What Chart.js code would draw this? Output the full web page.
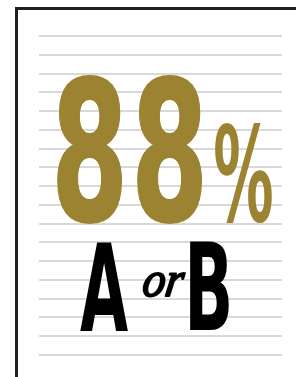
<!DOCTYPE html>
<html>
<head>
<meta charset="utf-8">
<script src="https://cdn.jsdelivr.net/npm/chart.js@4"></script>
<style>
  html, body { margin: 0; padding: 0; background: #fff; }
  body { width: 296px; height: 377px; overflow: hidden; position: relative; }
  #frame { position: absolute; left: 15px; top: 7px; width: 400px; height: 500px; border: 3px solid #231f20; box-sizing: border-box; }
  #c { position: absolute; left: 0; top: 0; }
</style>
</head>
<body>
<div id="frame"></div>
<canvas id="c" width="296" height="377"></canvas>
<script>
// ---- data ----
const rowTicks = [0, 1, 2, 3, 4, 5, 6, 7, 8, 9, 10, 11, 12, 13, 14, 15, 16, 17];
const shareValues = [88];
const shareUnit = '%';
const choices = ['A', 'B'];
const joiner = 'or';

// ---- drawing helper: fit a string into a box ----
function fitText(ctx, text, font, box, color, grow, skew) {
  ctx.save();
  ctx.font = font;
  const m = ctx.measureText(text);
  const g = grow || 0;
  const bw = m.actualBoundingBoxLeft + m.actualBoundingBoxRight + g;
  const bh = m.actualBoundingBoxAscent + m.actualBoundingBoxDescent + g;
  const sx = box.w / bw, sy = box.h / bh;
  ctx.translate(box.x + (m.actualBoundingBoxLeft + g / 2) * sx, box.y + (m.actualBoundingBoxAscent + g / 2) * sy);
  if (skew) ctx.transform(1, 0, -skew, 1, 0, 0);
  ctx.scale(sx, sy);
  ctx.fillStyle = color;
  ctx.fillText(text, 0, 0);
  if (g > 0) {
    ctx.strokeStyle = color;
    ctx.lineWidth = g;
    ctx.lineJoin = 'round';
    ctx.strokeText(text, 0, 0);
  }
  ctx.restore();
}

const posterText = {
  id: 'posterText',
  afterDraw(chart) {
    const ctx = chart.ctx;
    const gold = '#9b8332';
    const digits = String(shareValues[0]).split('');
    digits.forEach((d, i) => {
      fitText(ctx, d, 'bold 200px "DejaVu Sans"', { x: 57 + i * 80, y: 75, w: 65, h: 149 }, gold, 2);
    });
    fitText(ctx, shareUnit, 'bold 200px "DejaVu Sans Condensed"', { x: 215, y: 123, w: 57, h: 100 }, gold, 0);
    fitText(ctx, choices[0], 'bold 200px "DejaVu Sans Condensed"', { x: 80, y: 243, w: 48, h: 88 }, '#000', 0);
    fitText(ctx, joiner, 'italic 100px "Liberation Serif"', { x: 141, y: 271, w: 42, h: 26 }, '#000', 4, 0.15);
    fitText(ctx, choices[1], 'bold 200px "DejaVu Sans Condensed"', { x: 190, y: 242, w: 39, h: 88 }, '#000', 0);
  }
};

new Chart(document.getElementById('c'), {
  type: 'line',
  data: { labels: rowTicks, datasets: [] },
  options: {
    responsive: false,
    animation: false,
    layout: { padding: { left: 39, right: 14, top: 36, bottom: 22 } },
    plugins: { legend: { display: false }, tooltip: { enabled: false } },
    scales: {
      x: { display: false },
      y: {
        type: 'linear',
        min: rowTicks[0],
        max: rowTicks[rowTicks.length - 1],
        afterBuildTicks: (s) => { s.ticks = rowTicks.map(v => ({ value: v })); },
        afterFit: (s) => { s.width = 0; },
        ticks: { display: false },
        grid: { color: '#d9d9d9', lineWidth: 2, drawTicks: false },
        border: { display: false }
      }
    }
  },
  plugins: [posterText]
});
</script>
</body>
</html>
